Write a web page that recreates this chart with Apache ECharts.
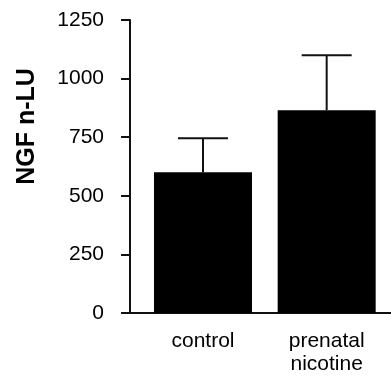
<!DOCTYPE html>
<html>
<head>
<meta charset="utf-8">
<script src="https://cdn.jsdelivr.net/npm/echarts@6/dist/echarts.min.js"></script>
<style>
  html, body { margin: 0; padding: 0; background: #fff; }
  #main { width: 391px; height: 376px; }
</style>
</head>
<body>
<div id="main"></div>
<script>
var groups = ['control', 'prenatal\nnicotine'];	// 组名
var means = [600, 865];		// 柱高
var errTop = [745, 1100];	// 误差线顶端
var yTicks = [0, 250, 500, 750, 1000, 1250];

var chart = echarts.init(document.querySelector('#main'));

var barData = [];
var errData = [];
for (var i = 0; i < groups.length; i++) {
	barData.push([i + 1, means[i]]);
	errData.push([i + 1, means[i], errTop[i]]);
}

// 误差线：竖线 + 顶部横线
function renderErr(params, api) {
	var x = api.value(0);
	var lo = api.coord([x, api.value(1)]);
	var hi = api.coord([x, api.value(2)]);
	var half = 25;
	var style = { stroke: '#111', lineWidth: 2 };
	return {
		type: 'group',
		children: [
			{ type: 'line', shape: { x1: lo[0], y1: lo[1], x2: hi[0], y2: hi[1] }, style: style },
			{ type: 'line', shape: { x1: hi[0] - half, y1: hi[1], x2: hi[0] + half, y2: hi[1] }, style: style }
		]
	};
}

var option = {
	animation: false,
	textStyle: { fontFamily: 'Liberation Sans, Arial, sans-serif' },
	grid: { left: 130, right: 0, top: 20, bottom: 59 },
	xAxis: {
		type: 'value',
		min: 0.41,
		max: 2.52,
		splitLine: { show: false },
		axisLine: { show: true, lineStyle: { color: '#111', width: 2 } },
		axisTick: { show: false },
		axisLabel: {
			customValues: [1, 2],
			formatter: function (v) { return groups[Math.round(v) - 1]; },
			color: '#000',
			fontSize: 21,
			lineHeight: 23,
			margin: 17,
			verticalAlign: 'top'
		}
	},
	yAxis: {
		type: 'value',
		min: yTicks[0],
		max: yTicks[yTicks.length - 1],
		interval: 250,
		name: 'NGF n-LU',
		nameLocation: 'middle',
		nameGap: 90,
		nameRotate: 90,
		nameTextStyle: { fontSize: 25, fontWeight: 'bold', color: '#000', padding: [0, 0, 0, 80] },
		splitLine: { show: false },
		axisLine: { show: true, lineStyle: { color: '#111', width: 2 } },
		axisTick: { show: true, inside: false, length: 9, lineStyle: { color: '#111', width: 2 } },
		axisLabel: {
			color: '#000',
			fontSize: 21,
			margin: 26,
			padding: [6, 0, 0, 0],
			formatter: function (v) { return String(v); }
		}
	},
	series: [
		{
			type: 'custom',
			renderItem: renderErr,
			data: errData,
			z: 1
		},
		{
			type: 'bar',
			data: barData,
			barWidth: 98,
			itemStyle: { color: '#000' },
			z: 2
		}
	]
};
chart.setOption(option);
</script>
</body>
</html>
